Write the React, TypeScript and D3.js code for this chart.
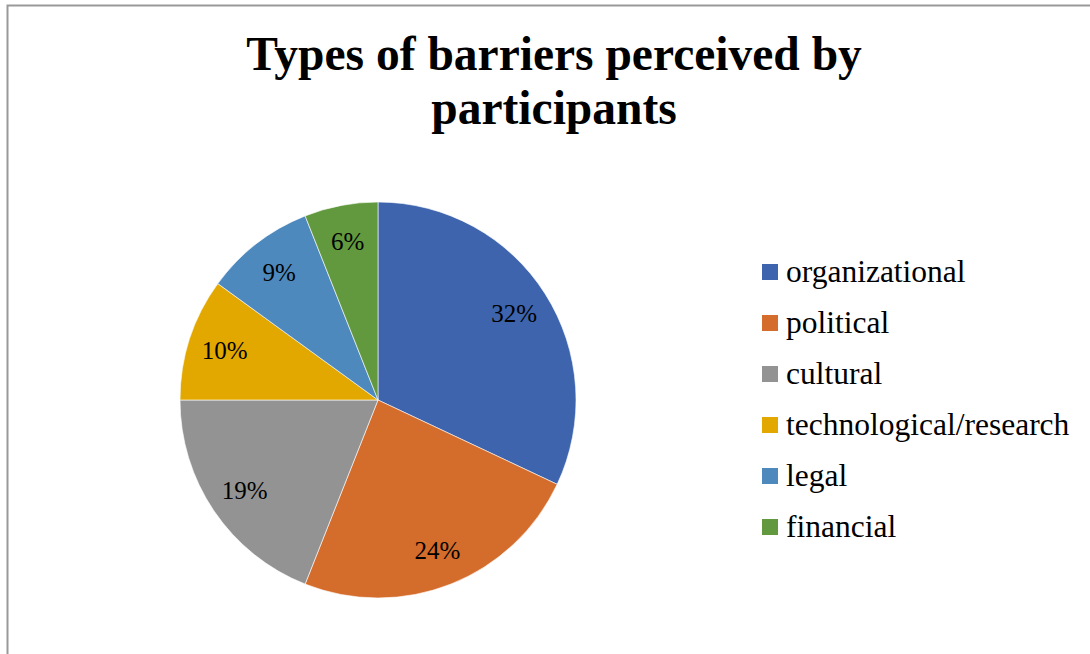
import React from 'react';
import * as d3 from 'd3';

const categories = ['organizational', 'political', 'cultural', 'technological/research', 'legal', 'financial'];
const shares = [32, 24, 19, 10, 9, 6];
const colors = ['#3D64AD', '#D46C2B', '#939393', '#E2A800', '#4E89BE', '#62993E'];

const W = 1090;
const H = 654;

const App: React.FC = () => {
  const cx = 378;
  const cy = 400;
  const radius = 198;

  const pie = d3.pie<number>().sort(null).value(d => d);
  const arcs = pie(shares);
  const arc = d3.arc<d3.PieArcDatum<number>>().innerRadius(0).outerRadius(radius);
  const labelArc = d3.arc<d3.PieArcDatum<number>>().innerRadius(radius * 0.815).outerRadius(radius * 0.815);

  const legendY = d3.scaleBand<string>()
    .domain(categories)
    .range([246.5, 552.5]);

  return (
    <svg width={W} height={H} style={{ position: 'absolute', left: 0, top: 0 }}
      fontFamily="'Liberation Serif', 'Times New Roman', serif">
      <rect x={0} y={0} width={W} height={H} fill="#fff" />
      <rect x={7.5} y={5.5} width={W + 20} height={H + 20} fill="none" stroke="#999" strokeWidth={2} />

      <text x={554} y={70} textAnchor="middle" fontSize={47.5} fontWeight="bold">
        Types of barriers perceived by
      </text>
      <text x={554} y={124} textAnchor="middle" fontSize={47.5} fontWeight="bold">
        participants
      </text>

      <g transform={`translate(${cx},${cy})`}>
        {arcs.map((a, i) => (
          <path key={categories[i]} d={arc(a) || ''} fill={colors[i]} stroke="#fff" strokeWidth={0.6} />
        ))}
        {arcs.map((a, i) => {
          const [lx, ly] = labelArc.centroid(a);
          return (
            <text key={'l' + i} x={lx} y={ly} dy="0.34em" textAnchor="middle" fontSize={25} fill="#000">
              {shares[i]}%
            </text>
          );
        })}
      </g>

      {categories.map((c, i) => {
        const y = (legendY(c) || 0) + legendY.bandwidth() / 2;
        return (
          <g key={'leg' + c}>
            <rect x={762} y={y - 8} width={16} height={16} fill={colors[i]} />
            <text x={786} y={y + 10} fontSize={31.5} fill="#000">{c}</text>
          </g>
        );
      })}
    </svg>
  );
};

export default App;
